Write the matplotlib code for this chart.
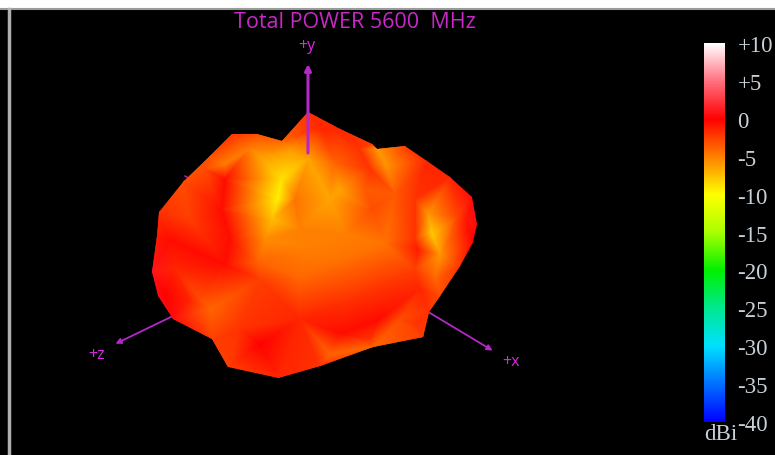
import matplotlib
matplotlib.use("Agg")
import matplotlib.pyplot as plt
import matplotlib.tri as mtri
from matplotlib.colors import LinearSegmentedColormap, Normalize
from matplotlib.cm import ScalarMappable
from matplotlib.patches import Polygon

# blob outline in screen pixels, with the gain
outline_x = [308, 340, 372, 377, 405, 427, 450, 472, 477, 473, 460, 440, 429, 423, 373,
             320, 278, 228, 212, 173, 158, 152, 157, 159, 183, 210, 232, 257, 282]
outline_y = [113, 130, 145, 150, 147, 162, 178, 198, 225, 243, 267, 297, 313, 338, 348,
             367, 379, 368, 340, 320, 297, 273, 237, 213, 183, 157, 135, 135, 142]
outline_db = [-2, -1.5, -2.5, -6, -2.5, -1.5, -1.5, 0.5, 0.5, 0, -2, -3, -2, -2.5, -4,
              -2, -1.5, -2.5, -2.5, 0.5, 0.5, 1, -1, -2, -3, -3, -2, -3, -4]

# points inside the blob
inner_x = [288, 282, 278, 272, 265, 258, 225, 222, 230, 225, 170, 190, 175, 205, 232, 225,
           250, 270, 290, 330, 340, 335, 320, 295, 300, 305, 365, 372, 370, 360, 385, 395,
           415, 415, 415, 420, 418, 428, 432, 440, 435, 455, 465, 340, 300, 260, 350, 300,
           380, 340, 260, 240, 210, 200, 400, 370, 330, 415, 308, 345, 385, 190, 165]
inner_y = [165, 180, 200, 220, 240, 262, 180, 210, 240, 265, 240, 220, 270, 170, 145, 165,
           150, 155, 150, 200, 190, 165, 130, 200, 230, 250, 190, 210, 170, 150, 165, 195,
           200, 240, 270, 290, 250, 215, 235, 255, 280, 220, 225, 260, 280, 280, 300, 320,
           320, 335, 345, 330, 310, 300, 320, 340, 355, 325, 160, 235, 245, 300, 295]
inner_db = [-7.5, -9, -9.5, -7.5, -5.5, -4, -0.5, -0.5, -0.5, -0.5, -0.5, -2.5, -1.5, -3, -3, -5,
            -5, -6, -6, -6.5, -6.5, -4, -1.5, -4.5, -5, -5, -3.5, -3, -2, -2, -6, -3.5,
            -2, -2, -2.5, -1.5, -1, -6, -8, -6, -4, -3, -1, -4.5, -4, -2.5, -2, -1.5,
            -0.5, -0.5, 0, -2, -4, -3, -3, -2, -4, -2, -6.5, -5, -4.5, -1.5, 0]

# colour scale
scale_db = [-40, -35, -30, -25, -20, -15, -10, -5, 0, 5, 10]
scale_colors = ["#0000ff", "#0070ff", "#00e0ff", "#00e890", "#00f000", "#a8ff00",
                "#ffff00", "#ff8000", "#ff0000", "#ff7080", "#ffffff"]
tick_labels = ["-40", "-35", "-30", "-25", "-20", "-15", "-10", "-5", "0", "+5", "+10"]

title = "Total POWER 5600  MHz"
magenta = "#b428c8"

cmap = LinearSegmentedColormap.from_list(
    "gain", [((d + 40) / 50, c) for d, c in zip(scale_db, scale_colors)], N=512)
norm = Normalize(-40, 10)

fig = plt.figure(figsize=(7.75, 4.56), dpi=100, facecolor="black")
ax = fig.add_axes([0, 0, 1, 1])
ax.set_xlim(0, 775)
ax.set_ylim(456, 0)
ax.axis("off")

# window frame
ax.axhspan(0, 9, color="white", zorder=5)
ax.plot([0, 775], [10, 10], color="#9a9a9a", lw=1.5, zorder=5)
ax.plot([9, 9], [10, 456], color="#b0b0b0", lw=2.5, zorder=5)

# axes behind the blob
ax.annotate("", xy=(113, 346), xytext=(175, 316),
            arrowprops=dict(arrowstyle="-|>", color=magenta, lw=1.3, mutation_scale=8), zorder=1)
ax.annotate("", xy=(495, 353), xytext=(425, 311),
            arrowprops=dict(arrowstyle="-|>", color=magenta, lw=1.3, mutation_scale=8), zorder=1)
ax.plot([185, 192], [177, 181], color=magenta, lw=1, zorder=1)

# gain surface
tri = mtri.Triangulation(outline_x + inner_x, outline_y + inner_y)
mesh = ax.tripcolor(tri, outline_db + inner_db, shading="gouraud", cmap=cmap, norm=norm, zorder=2)
mesh.set_clip_path(Polygon(list(zip(outline_x, outline_y)), transform=ax.transData))

ax.annotate("", xy=(308, 65), xytext=(308, 154),
            arrowprops=dict(arrowstyle="-|>", color=magenta, lw=2.2, mutation_scale=9,
                            shrinkA=0, shrinkB=0), zorder=3)

ax.text(354.5, 22, title, color="#c828c8", fontsize=15.5, family="Open Sans", ha="center", va="center")
ax.text(307, 46, "+y", color="#d828e0", fontsize=11.5, family="Open Sans", ha="center", va="center")
ax.text(97, 355, "+z", color="#d828e0", fontsize=11.5, family="Open Sans", ha="center", va="center")
ax.text(511, 362, "+x", color="#d828e0", fontsize=11.5, family="Open Sans", ha="center", va="center")

# colour bar
cax = fig.add_axes([704 / 775, 1 - 423 / 456, 21 / 775, 379 / 456])
cb = fig.colorbar(ScalarMappable(norm=norm, cmap=cmap), cax=cax, ticks=scale_db)
cb.outline.set_visible(False)
cb.ax.set_yticklabels(tick_labels, family="Liberation Serif", fontsize=16.5, color="#c8d0d8")
cb.ax.tick_params(length=0, pad=9)
ax.text(721, 435, "dBi", color="#c8d0d8", fontsize=16.5, family="Liberation Serif", ha="center", va="center")

fig.savefig("out.png", dpi=100, facecolor="black")
